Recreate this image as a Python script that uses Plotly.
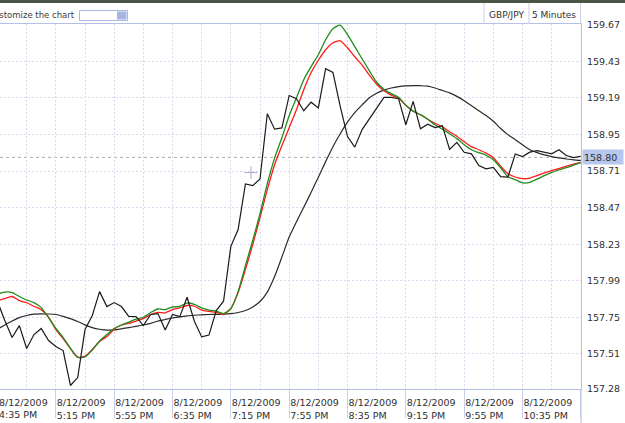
import plotly.graph_objects as go
import pandas as pd

# ---------------- data ----------------
bar_start = "2009-08-12 16:35"
bar_freq = "5min"

close = [157.854, 157.729, 157.618, 157.696, 157.546, 157.637, 157.677, 157.598, 157.559, 157.532,
         157.303, 157.355, 157.670, 157.762, 157.919, 157.821, 157.847, 157.821, 157.757, 157.755,
         157.696, 157.769, 157.775, 157.667, 157.769, 157.755, 157.882, 157.725, 157.622, 157.634,
         157.795, 157.856, 158.216, 158.326, 158.626, 158.614, 158.658, 159.086, 158.985, 158.993,
         159.206, 159.185, 159.106, 159.162, 159.124, 159.382, 159.357, 159.134, 158.936, 158.867,
         158.982, 159.054, 159.124, 159.193, 159.193, 159.185, 159.014, 159.167, 158.988, 159.018,
         158.995, 159.008, 158.852, 158.898, 158.833, 158.823, 158.746, 158.725, 158.734, 158.673,
         158.671, 158.822, 158.805, 158.834, 158.844, 158.832, 158.823, 158.850, 158.812, 158.798,
         158.807]

ma_fast = [157.903, 157.916, 157.913, 157.887, 157.864, 157.847, 157.814, 157.749, 157.677, 157.618,
           157.546, 157.487, 157.490, 157.536, 157.595, 157.637, 157.677, 157.700, 157.719, 157.738,
           157.751, 157.782, 157.805, 157.801, 157.818, 157.822, 157.844, 157.835, 157.812, 157.797,
           157.791, 157.775, 157.808, 157.919, 158.090, 158.254, 158.431, 158.628, 158.795, 158.929,
           159.073, 159.191, 159.309, 159.395, 159.473, 159.572, 159.644, 159.667, 159.605, 159.526,
           159.447, 159.368, 159.293, 159.247, 159.218, 159.195, 159.142, 159.103, 159.080, 159.050,
           159.014, 158.985, 158.955, 158.923, 158.883, 158.850, 158.831, 158.814, 158.785, 158.732,
           158.673, 158.654, 158.632, 158.636, 158.657, 158.680, 158.701, 158.717, 158.732, 158.749,
           158.765]

ma_mid = [157.860, 157.873, 157.887, 157.860, 157.846, 157.823, 157.801, 157.752, 157.670, 157.611,
          157.546, 157.489, 157.496, 157.539, 157.592, 157.624, 157.673, 157.700, 157.711, 157.726,
          157.742, 157.769, 157.783, 157.780, 157.801, 157.812, 157.828, 157.823, 157.798, 157.790,
          157.782, 157.769, 157.808, 157.913, 158.064, 158.228, 158.405, 158.588, 158.752, 158.877,
          158.995, 159.113, 159.244, 159.355, 159.437, 159.506, 159.552, 159.565, 159.519, 159.460,
          159.405, 159.339, 159.280, 159.237, 159.208, 159.188, 159.142, 159.103, 159.080, 159.050,
          159.024, 159.001, 158.968, 158.939, 158.903, 158.870, 158.850, 158.828, 158.798, 158.742,
          158.693, 158.671, 158.660, 158.664, 158.680, 158.698, 158.713, 158.726, 158.742, 158.755,
          158.767]

ma_slow = [157.673, 157.700, 157.726, 157.748, 157.762, 157.771, 157.773, 157.772, 157.769, 157.757,
           157.742, 157.723, 157.701, 157.683, 157.672, 157.666, 157.668, 157.675, 157.683, 157.691,
           157.700, 157.711, 157.726, 157.736, 157.746, 157.753, 157.760, 157.764, 157.767, 157.769,
           157.770, 157.771, 157.774, 157.782, 157.795, 157.818, 157.854, 157.916, 158.018, 158.146,
           158.277, 158.378, 158.473, 158.569, 158.670, 158.772, 158.870, 158.955, 159.031, 159.093,
           159.144, 159.191, 159.221, 159.241, 159.255, 159.264, 159.269, 159.271, 159.270, 159.267,
           159.255, 159.239, 159.223, 159.200, 159.172, 159.139, 159.106, 159.075, 159.037, 158.989,
           158.949, 158.916, 158.883, 158.850, 158.831, 158.816, 158.805, 158.797, 158.789, 158.784,
           158.780]

y_tick_vals = [157.28, 157.51, 157.75, 157.99, 158.23, 158.47, 158.71, 158.95, 159.19, 159.43, 159.67]
y_tick_text = ["157.28", "157.51", "157.75", "157.99", "158.23", "158.47", "158.71", "158.95",
               "159.19", "159.43", "159.67"]
y_range = [157.28, 159.675]
x_range = ["2009-08-12 16:36:43", "2009-08-12 23:15:06"]
x_tick0 = "2009-08-12 16:35"
first_tick_text = "8/12/2009<br>4:35 PM"

cursor_price = 158.80
cursor_label = "158.80"
cross_time = "2009-08-12 19:28:50"
cross_price = 158.70

symbol_text = "GBP/JPY"
interval_text = "5 Minutes"
toolbar_text = "Customize the chart"

times = pd.date_range(bar_start, periods=len(close), freq=bar_freq)

# ---------------- layout helpers ----------------
W, H = 625, 423
ML, MR, MT, MB = 0, 44, 24, 34
PW, PH = W - ML - MR, H - MT - MB


def px(x):
    return (x - ML) / PW


def py(y):
    return (H - MB - y) / PH


FONT = "DejaVu Sans"
AXIS_BLUE = "#b4c0e4"
GRID = "#d9d9f0"
TEXT = "#303030"

fig = go.Figure()
fig.add_trace(go.Scatter(x=times, y=ma_slow, mode="lines", line=dict(color="#2a2a2a", width=1.2, shape="spline", smoothing=0.6), hoverinfo="skip"))
fig.add_trace(go.Scatter(x=times, y=ma_mid, mode="lines", line=dict(color="#ff1a1a", width=1.3, shape="spline", smoothing=0.6), hoverinfo="skip"))
fig.add_trace(go.Scatter(x=times, y=ma_fast, mode="lines", line=dict(color="#1e8c1e", width=1.3, shape="spline", smoothing=0.6), hoverinfo="skip"))
fig.add_trace(go.Scatter(x=times, y=close, mode="lines", line=dict(color="#1a1a1a", width=1.2), hoverinfo="skip"))
fig.add_trace(go.Scatter(x=[cross_time], y=[cross_price], mode="markers",
                         marker=dict(symbol="cross-thin", size=9, line=dict(color="#a8a8c8", width=1)),
                         hoverinfo="skip"))

fig.update_layout(
    width=W, height=H,
    margin=dict(l=ML, r=MR, t=MT, b=MB, pad=0),
    paper_bgcolor="white", plot_bgcolor="white",
    showlegend=False,
    font=dict(family=FONT, size=9.5, color=TEXT),
    xaxis=dict(
        type="date", range=x_range,
        tickmode="linear", tick0=x_tick0, dtick=40 * 60 * 1000,
        tickformat="%-m/%-d/%Y<br>%-I:%M %p",
        ticklabelposition="outside right",
        ticks="outside", ticklen=28, tickcolor="#c8d0ec", tickwidth=1,
        ticklabelstandoff=5,
        showgrid=True, gridcolor=GRID, griddash="2px,2px", gridwidth=1,
        minor=dict(tick0=x_tick0, dtick=20 * 60 * 1000, showgrid=True, gridcolor=GRID,
                   griddash="2px,2px", gridwidth=1, ticks=""),
        showline=True, linecolor=AXIS_BLUE, linewidth=1, mirror=True,
        zeroline=False, fixedrange=True,
        tickfont=dict(family=FONT, size=9.5, color=TEXT),
    ),
    yaxis=dict(
        side="right", range=y_range,
        tickmode="array", tickvals=y_tick_vals, ticktext=y_tick_text,
        ticks="", ticklabelstandoff=3,
        showgrid=True, gridcolor=GRID, griddash="2px,2px", gridwidth=1,
        showline=True, linecolor=AXIS_BLUE, linewidth=1, mirror=False,
        zeroline=False, fixedrange=True,
        tickfont=dict(family=FONT, size=9.5, color=TEXT),
    ),
)

shapes = [
    # dark strip at very top
    dict(type="rect", xref="paper", yref="paper", x0=px(0), x1=px(W), y0=py(3), y1=py(-1),
         fillcolor="#4b5546", line=dict(width=0), layer="above"),
    # toolbar separators
    dict(type="line", xref="paper", yref="paper", x0=px(484), x1=px(484), y0=py(3), y1=py(24),
         line=dict(color="#c8d0e8", width=1)),
    dict(type="line", xref="paper", yref="paper", x0=px(529), x1=px(529), y0=py(3), y1=py(24),
         line=dict(color="#c8d0e8", width=1)),
    dict(type="line", xref="paper", yref="paper", x0=px(580.5), x1=px(580.5), y0=py(3), y1=py(24),
         line=dict(color="#c8d0e8", width=1)),
    # input box with dropdown button
    dict(type="rect", xref="paper", yref="paper", x0=px(79.5), x1=px(127.5), y0=py(20.5), y1=py(10.5),
         fillcolor="white", line=dict(color="#a8b8dc", width=1)),
    dict(type="rect", xref="paper", yref="paper", x0=px(117), x1=px(126.5), y0=py(19.5), y1=py(11.5),
         fillcolor="#a7b6e6", line=dict(width=0)),
    # right axis line running to bottom edge
    dict(type="line", xref="paper", yref="paper", x0=1, x1=1, y0=0, y1=py(H + 2),
         line=dict(color=AXIS_BLUE, width=1)),
    # cursor level line
    dict(type="line", xref="paper", yref="y", x0=0, x1=1, y0=cursor_price, y1=cursor_price,
         line=dict(color="#a8a8a8", width=1, dash="3px,3px"), layer="below"),
]
fig.update_layout(shapes=shapes)

annotations = [
    dict(text=toolbar_text, xref="paper", yref="paper", x=px(77), y=py(15), xanchor="right", yanchor="middle",
         showarrow=False, font=dict(family=FONT, size=8.5, color="#404040")),
    dict(text=symbol_text, xref="paper", yref="paper", x=px(506), y=py(15), xanchor="center", yanchor="middle",
         showarrow=False, font=dict(family=FONT, size=9, color=TEXT)),
    dict(text=interval_text, xref="paper", yref="paper", x=px(554), y=py(15), xanchor="center", yanchor="middle",
         showarrow=False, font=dict(family=FONT, size=9, color=TEXT)),
    dict(text=cursor_label, xref="paper", yref="y", x=px(582), y=cursor_price, xanchor="left", yanchor="middle",
         showarrow=False, bgcolor="#b7c7ee", width=38, height=12, align="left", borderpad=1,
         font=dict(family=FONT, size=9.5, color=TEXT)),
    # first (partly hidden) time label, just left of the visible range
    dict(text=first_tick_text, xref="paper", yref="paper", x=px(-3), y=py(395), xanchor="left", yanchor="top",
         align="left", showarrow=False, font=dict(family=FONT, size=9.5, color=TEXT)),
]
fig.update_layout(annotations=annotations)

fig.write_html("out.html")
